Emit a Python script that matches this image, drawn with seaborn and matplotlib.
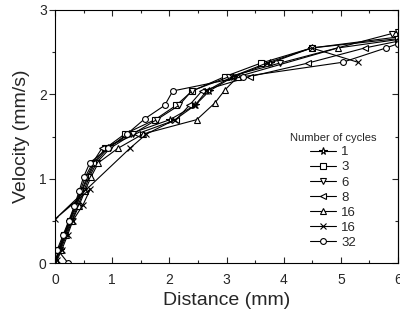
import matplotlib
matplotlib.use("Agg")
import matplotlib.pyplot as plt
import seaborn as sns
import pandas as pd
from matplotlib.ticker import MultipleLocator

sns.set_style("ticks")
plt.rcParams['font.family'] = ['Liberation Sans', 'DejaVu Sans']

# Number of cycles (legend labels) and marker per series
labels = ["1", "3", "6", "8", "16", "16", "32"]
markers = ["*", "s", "v", "<", "^", "x", "o"]

# Distance (mm) / velocity (mm/s)
x_c1 = [0, 0.08, 0.17, 0.27, 0.38, 0.47, 0.58, 0.70, 0.92, 1.30, 2.01, 2.45, 2.70, 3.12, 3.76, 4.49, 6.0]
y_c1 = [0, 0.16, 0.33, 0.50, 0.68, 0.85, 1.02, 1.19, 1.36, 1.53, 1.70, 1.87, 2.04, 2.21, 2.37, 2.55, 2.68]

x_c3 = [0, 0.07, 0.16, 0.26, 0.36, 0.46, 0.56, 0.68, 0.88, 1.22, 1.75, 2.12, 2.40, 2.97, 3.60, 4.49, 6.0]
y_c3 = [0, 0.16, 0.33, 0.50, 0.68, 0.85, 1.02, 1.19, 1.36, 1.53, 1.70, 1.87, 2.04, 2.21, 2.37, 2.55, 2.66]

x_c6 = [0, 0.09, 0.18, 0.29, 0.40, 0.50, 0.60, 0.73, 0.96, 1.36, 1.78, 2.17, 2.39, 3.05, 3.93, 5.89, 6.0]
y_c6 = [0, 0.16, 0.33, 0.50, 0.68, 0.85, 1.02, 1.19, 1.36, 1.53, 1.70, 1.87, 2.04, 2.21, 2.37, 2.72, 2.74]

x_c8 = [0, 0.06, 0.15, 0.25, 0.35, 0.44, 0.53, 0.66, 0.82, 1.43, 2.12, 2.35, 2.57, 3.41, 4.42, 5.42, 6.0]
y_c8 = [0, 0.16, 0.33, 0.50, 0.68, 0.85, 1.02, 1.19, 1.36, 1.53, 1.70, 1.87, 2.04, 2.21, 2.37, 2.55, 2.63]

x_c16a = [0, 0.10, 0.20, 0.30, 0.42, 0.52, 0.63, 0.76, 1.10, 1.54, 2.48, 2.80, 2.97, 3.20, 4.95, 6.0]
y_c16a = [0, 0.16, 0.33, 0.50, 0.68, 0.85, 1.02, 1.19, 1.36, 1.53, 1.70, 1.90, 2.05, 2.21, 2.55, 2.65]

x_c16b = [0.04, 0.12, 0.22, 0.31, 0.49, 0.62, 0.0, 1.31, 1.60, 2.10, 2.45, 2.65, 3.10, 3.70, 4.49, 5.30]
y_c16b = [0.04, 0.16, 0.33, 0.50, 0.69, 0.88, 0.52, 1.36, 1.53, 1.70, 1.87, 2.04, 2.21, 2.37, 2.55, 2.38]

x_c32 = [0.23, 0.04, 0.14, 0.24, 0.34, 0.42, 0.50, 0.61, 0.93, 1.26, 1.57, 1.92, 2.06, 3.29, 5.03, 5.79, 6.0]
y_c32 = [0.0, 0.16, 0.33, 0.50, 0.68, 0.85, 1.02, 1.19, 1.36, 1.53, 1.71, 1.87, 2.04, 2.21, 2.38, 2.55, 2.60]

xs = [x_c1, x_c3, x_c6, x_c8, x_c16a, x_c16b, x_c32]
ys = [y_c1, y_c3, y_c6, y_c8, y_c16a, y_c16b, y_c32]

fig = plt.figure(figsize=(4.0, 3.22), dpi=100)
ax = fig.add_axes([0.1375, 0.183, 0.8575, 0.786])

for xv, yv, lab, mk in zip(xs, ys, labels, markers):
    df = pd.DataFrame({"Distance": xv, "Velocity": yv})
    ms = 5.5 if mk == "*" else 4.2
    sns.lineplot(data=df, x="Distance", y="Velocity", sort=False, estimator=None,
                 ax=ax, color="black", linewidth=0.8, marker=mk, markersize=ms,
                 markerfacecolor="white", markeredgecolor="black", markeredgewidth=0.8,
                 label=lab)

ax.set_xlim(0, 6)
ax.set_ylim(0, 3)
ax.xaxis.set_major_locator(MultipleLocator(1))
ax.xaxis.set_minor_locator(MultipleLocator(0.5))
ax.yaxis.set_major_locator(MultipleLocator(1))
ax.yaxis.set_minor_locator(MultipleLocator(0.5))
ax.tick_params(axis="x", which="both", direction="in", top=True, labelsize=10, pad=7)
ax.tick_params(axis="y", which="both", direction="out", labelsize=10, pad=2, right=False)
ax.tick_params(which="major", length=4, width=0.8)
ax.tick_params(which="minor", length=2.5, width=0.8)

# right side: inward ticks, no labels
sec = ax.secondary_yaxis("right")
sec.yaxis.set_major_locator(MultipleLocator(1))
sec.yaxis.set_minor_locator(MultipleLocator(0.5))
sec.tick_params(which="major", direction="in", length=4, width=0.8, labelright=False)
sec.tick_params(which="minor", direction="in", length=2.5, width=0.8)
for sp in ax.spines.values():
    sp.set_linewidth(0.8)
    sp.set_color("black")

ax.set_xlabel("Distance (mm)", fontsize=14, labelpad=4)
ax.set_ylabel("Velocity (mm/s)", fontsize=14, labelpad=6)

leg = ax.legend(title="Number of cycles", loc="upper center", bbox_to_anchor=(0.81, 0.55),
                frameon=False, fontsize=9.5, title_fontsize=8, handlelength=2.0,
                handletextpad=0.4, labelspacing=0.22, borderpad=0.2)

fig.savefig("out.png", dpi=100)
